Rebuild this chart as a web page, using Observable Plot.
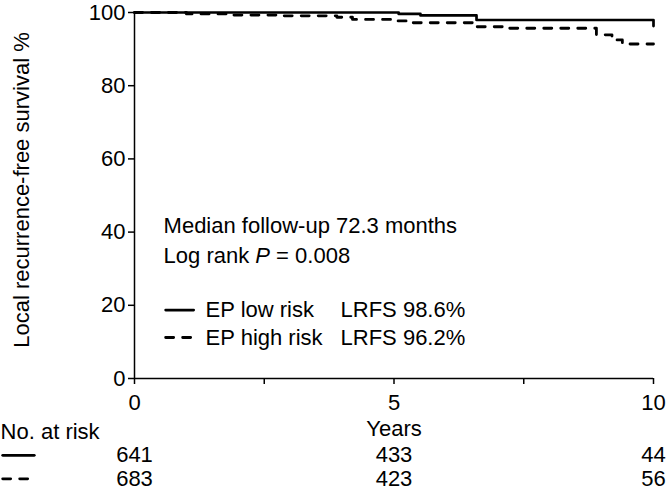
<!DOCTYPE html>
<html><head><meta charset="utf-8">
<script src="https://cdn.jsdelivr.net/npm/d3@7"></script>
<script src="https://cdn.jsdelivr.net/npm/@observablehq/plot@0.6"></script>
<style>
body{margin:0;background:#fff}
svg{font-family:"Liberation Sans",Arial,sans-serif}
</style>
</head><body><div id="chart"></div>
<script>
// Kaplan–Meier step data (years, survival %)
const lowRiskYears = [0, 5.09, 5.51, 6.59, 10, 10];
const lowRiskSurv  = [100, 99.6, 99.2, 97.95, 97.95, 96.3];
const highRiskYears = [0, 1.0, 1.8, 2.8, 3.9, 4.2, 5.0, 5.3, 6.6, 7.2, 8.9, 9.2, 9.4, 10];
const highRiskSurv  = [100, 99.6, 99.3, 99.1, 98.7, 98.1, 97.7, 97.2, 96.1, 95.7, 93.9, 92.5, 91.4, 91.4];

const yTicks = [0, 20, 40, 60, 80, 100];
const xTicks = [0, 2.5, 5, 7.5, 10];
const xTickLabels = ["0", "", "5", "", "10"];

const groups = ["EP low risk", "EP high risk"];
const groupLRFS = ["LRFS 98.6%", "LRFS 96.2%"];
const riskTimes = [0, 5, 10];
const atRiskLow = [641, 433, 44];
const atRiskHigh = [683, 423, 56];
const annotations = ["Median follow-up 72.3 months", "Log rank P = 0.008"];

const lowData = lowRiskYears.map((t, i) => ({t, s: lowRiskSurv[i]}));
const highData = highRiskYears.map((t, i) => ({t, s: highRiskSurv[i]}));

// layout positions expressed in data units
const annX = 0.56, annY = [41.6, 33.4];
const legY = [18.7, 11.2];
const legLineX = [0.60, 1.14], legTextX = 1.37, legLrfsX = 3.97;
const tableRowY = [-21.0, -27.4];
const yearsY = -13.8;
const tableHeadY = -14.5;
const tableLineX = [-2.54, -1.93];
const tableLabelX = -2.58;
const yLabelX = -2.16, yLabelY = 51.5;

const fs = 22;
const dash = "8,9";

const legendLines = [];
groups.forEach((g, i) => legendLines.push({g, t: legLineX[0], s: legY[i]}, {g, t: legLineX[1], s: legY[i]}));
const tableLines = [];
groups.forEach((g, i) => tableLines.push({g, t: tableLineX[0], s: tableRowY[i]}, {g, t: tableLineX[1], s: tableRowY[i]}));
const riskRows = [];
riskTimes.forEach((t, i) => { riskRows.push({t, s: tableRowY[0], n: atRiskLow[i]}); riskRows.push({t, s: tableRowY[1], n: atRiskHigh[i]}); });

const plot = Plot.plot({
  width: 667, height: 492,
  marginLeft: 134, marginRight: 14, marginTop: 12, marginBottom: 114,
  style: {fontFamily: '"Liberation Sans", Arial, sans-serif', fontSize: fs + "px", background: "#fff", color: "#000"},
  x: {domain: [0, 10]},
  y: {domain: [0, 100]},
  marks: [
    Plot.axisY({ticks: yTicks, tickSize: 6, tickPadding: 3, fontSize: fs, label: null, strokeWidth: 1.5}),
    Plot.axisX({ticks: xTicks, tickFormat: d => xTickLabels[xTicks.indexOf(d)], tickSize: 6, tickPadding: 10, fontSize: fs, label: null, strokeWidth: 1.5}),
    Plot.ruleX([0], {strokeWidth: 1.5}),
    Plot.ruleY([0], {strokeWidth: 1.5}),
    Plot.line(lowData, {x: "t", y: "s", curve: "step-after", stroke: "#000", strokeWidth: 2.7}),
    Plot.line(highData, {x: "t", y: "s", curve: "step-after", stroke: "#000", strokeWidth: 2.8, strokeDasharray: dash}),
    // y label
    Plot.text(["Local recurrence-free survival %"], {x: yLabelX, y: yLabelY, text: d => d, rotate: -90, fontSize: fs}),
    // annotations
    Plot.text(annotations, {x: annX, y: (d, i) => annY[i], text: d => d, textAnchor: "start", fontSize: fs}),
    // legend
    Plot.line(legendLines.filter(d => d.g === groups[0]), {x: "t", y: "s", stroke: "#000", strokeWidth: 2.7}),
    Plot.line(legendLines.filter(d => d.g === groups[1]), {x: "t", y: "s", stroke: "#000", strokeWidth: 2.8, strokeDasharray: dash}),
    Plot.text(groups, {x: legTextX, y: (d, i) => legY[i], text: d => d, textAnchor: "start", fontSize: fs}),
    Plot.text(groupLRFS, {x: legLrfsX, y: (d, i) => legY[i], text: d => d, textAnchor: "start", fontSize: fs}),
    // x axis label and risk table
    Plot.text(["Years"], {x: 5, y: yearsY, text: d => d, fontSize: fs}),
    Plot.text(["No. at risk"], {x: tableLabelX, y: tableHeadY, text: d => d, textAnchor: "start", fontSize: fs}),
    Plot.line(tableLines.filter(d => d.g === groups[0]), {x: "t", y: "s", stroke: "#000", strokeWidth: 2.7}),
    Plot.line(tableLines.filter(d => d.g === groups[1]), {x: "t", y: "s", stroke: "#000", strokeWidth: 2.8, strokeDasharray: dash}),
    Plot.text(riskRows, {x: "t", y: "s", text: d => String(d.n), fontSize: fs})
  ]
});

d3.select(plot).selectAll("text").filter(function () { return this.textContent === "Log rank P = 0.008"; })
  .each(function () {
    const t = d3.select(this);
    t.text(null);
    t.append("tspan").text("Log rank ");
    t.append("tspan").attr("font-style", "italic").text("P");
    t.append("tspan").text(" = 0.008");
  });

document.getElementById("chart").appendChild(plot);
</script>
</body></html>
